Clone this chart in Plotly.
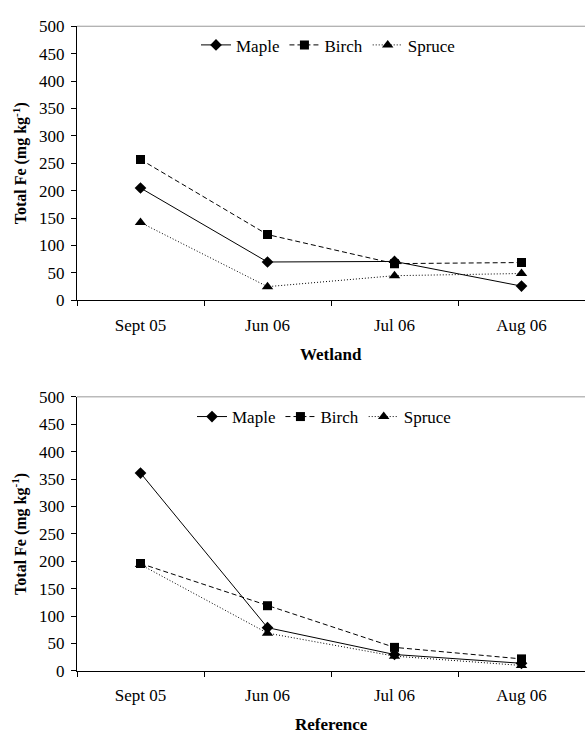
import plotly.graph_objects as go

months = ["Sept 05", "Jun 06", "Jul 06", "Aug 06"]
y_ticks = [0, 50, 100, 150, 200, 250, 300, 350, 400, 450, 500]

wet_maple = [205, 70, 71, 26]
wet_birch = [257, 120, 67, 69]
wet_spruce = [142, 25, 45, 49]

ref_maple = [361, 79, 30, 14]
ref_birch = [196, 119, 43, 22]
ref_spruce = [194, 69, 27, 10]

series_names = ["Maple", "Birch", "Spruce"]
y_title = "Total Fe (mg kg<sup>-1</sup>)"
x_titles = ["Wetland", "Reference"]

W, H = 585, 744
FONT = "Liberation Serif, Times New Roman, serif"

styles = [
    dict(symbol="diamond", size=9, dash="solid"),
    dict(symbol="square", size=9, dash="5px,3px"),
    dict(symbol="triangle-up", size=10, dash="1px,2px"),
]

fig = go.Figure()

panels = [
    ("x", "y", "legend", [wet_maple, wet_birch, wet_spruce]),
    ("x2", "y2", "legend2", [ref_maple, ref_birch, ref_spruce]),
]
for xa, ya, lg, data in panels:
    for name, vals, st in zip(series_names, data, styles):
        fig.add_trace(go.Scatter(
            x=months, y=vals, name=name, xaxis=xa, yaxis=ya, legend=lg,
            mode="lines+markers",
            line=dict(color="black", width=1, dash=st["dash"]),
            marker=dict(symbol=st["symbol"], size=st["size"], color="black"),
            showlegend=True,
        ))

# pixel geometry
left, right = 77, 585
tops = [17.7, 398.0]
bottoms = [299.0, 679.3]

def py(px):
    return 1 - px / H

axis_common = dict(
    showline=True, linecolor="black", linewidth=1,
    ticks="outside", ticklen=5, tickcolor="black", tickwidth=1,
    showgrid=False, zeroline=False,
    tickfont=dict(family=FONT, size=17, color="black"),
)

fig.update_layout(
    width=W, height=H,
    margin=dict(l=0, r=0, t=0, b=0),
    paper_bgcolor="white", plot_bgcolor="white",
    font=dict(family=FONT, size=17, color="black"),
    xaxis=dict(domain=[left / W, right / W], anchor="y", type="category",
               range=[-0.5, 3.5], tickson="boundaries", ticklabelstandoff=9, **axis_common),
    yaxis=dict(domain=[py(bottoms[0]), py(tops[0])], anchor="x",
               range=[0, 500], tickvals=y_ticks, ticklabelstandoff=3, **axis_common),
    xaxis2=dict(domain=[left / W, right / W], anchor="y2", type="category",
                range=[-0.5, 3.5], tickson="boundaries", ticklabelstandoff=9, **axis_common),
    yaxis2=dict(domain=[py(bottoms[1]), py(tops[1])], anchor="x2",
                range=[0, 500], tickvals=y_ticks, ticklabelstandoff=3, **axis_common),
    legend=dict(orientation="h", x=196 / W, y=py(37.3), xanchor="left", yanchor="middle",
                font=dict(family=FONT, size=17, color="black"), bgcolor="rgba(0,0,0,0)"),
    legend2=dict(orientation="h", x=192 / W, y=py(418.7), xanchor="left", yanchor="middle",
                 font=dict(family=FONT, size=17, color="black"), bgcolor="rgba(0,0,0,0)"),
)

# top border of each plot (gray)
for xr, yr in [("x domain", "y domain"), ("x2 domain", "y2 domain")]:
    fig.add_shape(type="line", xref=xr, yref=yr, x0=0, x1=1, y0=1, y1=1,
                  line=dict(color="#999999", width=1))

# axis titles
for i in range(2):
    mid = (tops[i] + bottoms[i]) / 2
    fig.add_annotation(text="<b>" + y_title + "</b>", textangle=-90,
                       xref="paper", yref="paper", x=20 / W, y=py(mid),
                       xanchor="center", yanchor="middle", showarrow=False,
                       font=dict(family=FONT, size=16, color="black"))
x_title_y = [354.5, 734.7]
for i in range(2):
    fig.add_annotation(text="<b>" + x_titles[i] + "</b>",
                       xref="paper", yref="paper", x=(left + right) / 2 / W, y=py(x_title_y[i]),
                       xanchor="center", yanchor="middle", showarrow=False,
                       font=dict(family=FONT, size=17, color="black"))

fig.write_html("out.html", config={"displayModeBar": False},
               post_script="document.body.style.margin='0';")
